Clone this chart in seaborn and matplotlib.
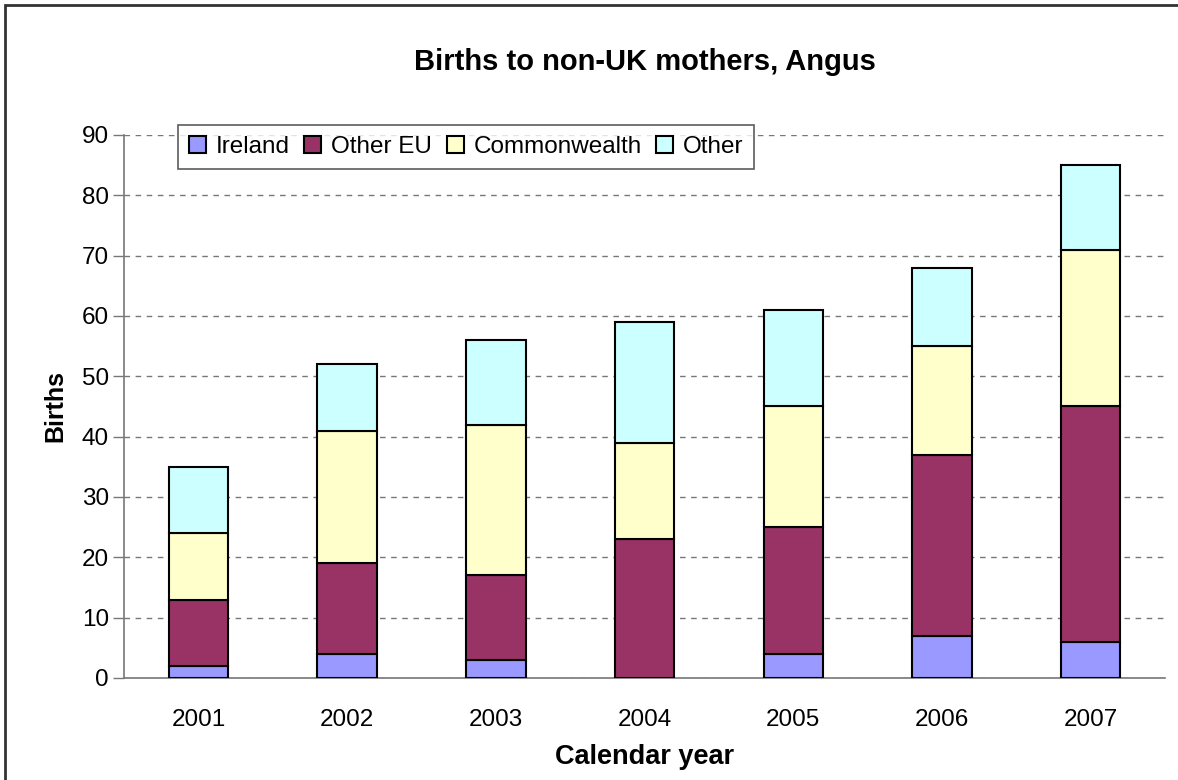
import matplotlib
matplotlib.use('Agg')
import matplotlib.pyplot as plt
import seaborn as sns
import numpy as np
import pandas as pd
from matplotlib.patches import Rectangle

years = ['2001', '2002', '2003', '2004', '2005', '2006', '2007']
ireland = [2, 4, 3, 0, 4, 7, 6]
other_eu = [11, 15, 14, 23, 21, 30, 39]
commonwealth = [11, 22, 25, 16, 20, 18, 26]
other = [11, 11, 14, 20, 16, 13, 14]

series_names = ['Ireland', 'Other EU', 'Commonwealth', 'Other']
series_colors = ['#9999FF', '#993366', '#FFFFCC', '#CCFFFF']

sns.set_style('white')
plt.rcParams['font.family'] = ['Liberation Sans', 'DejaVu Sans']
plt.rcParams['text.color'] = 'black'
plt.rcParams['axes.labelcolor'] = 'black'
plt.rcParams['xtick.color'] = 'black'
plt.rcParams['ytick.color'] = 'black'

fig = plt.figure(figsize=(11.78, 7.8), dpi=100)
ax = fig.add_axes([0.1053, 0.1308, 0.8837, 0.6962])

# figure border like the Excel chart area
fig.patches.append(Rectangle((5 / 1178, -0.1), 1.2, 1.0 - 5 / 780 + 0.1,
                             transform=fig.transFigure, fill=False,
                             edgecolor='#333333', linewidth=2.0, zorder=0))

bottom = np.zeros(len(years))
for name, vals, col in zip(series_names, [ireland, other_eu, commonwealth, other], series_colors):
    df = pd.DataFrame({'year': years, 'value': vals})
    sns.barplot(data=df, x='year', y='value', ax=ax, color=col, width=0.4,
                bottom=bottom, edgecolor='black', linewidth=1.5, label=name,
                saturation=1, zorder=3)
    bottom = bottom + np.array(vals)

ax.set_ylim(0, 90)
ax.set_xlim(-0.5, len(years) - 0.5)
ax.set_yticks(range(0, 91, 10))
ax.yaxis.grid(True, linestyle=(0, (4, 4)), color='#777777', linewidth=1.0, zorder=0)
ax.xaxis.grid(False)

# x ticks at category boundaries
ax.set_xticks(np.arange(len(years)))
ax.set_xticklabels(years)
ax.set_xticks(np.arange(-0.5, len(years)), minor=True)
ax.tick_params(axis='x', which='major', length=0, labelsize=17.5, pad=22)
ax.tick_params(axis='x', which='minor', length=8, width=1, color='#777777', direction='out')
ax.tick_params(axis='y', length=8, width=1, color='#777777', labelcolor='black',
               direction='out', labelsize=17.5, left=True, pad=3)
ax.tick_params(axis='x', which='both', labelcolor='black')

for s in ['top', 'right']:
    ax.spines[s].set_visible(False)
for s in ['left', 'bottom']:
    ax.spines[s].set_color('#777777')
    ax.spines[s].set_linewidth(1.2)

ax.set_xlabel('Calendar year', fontsize=19.5, fontweight='bold', labelpad=10)
ax.set_ylabel('Births', fontsize=18, fontweight='bold', labelpad=10)
ax.set_title('Births to non-UK mothers, Angus', fontsize=21, fontweight='bold', pad=47)

leg = ax.legend(loc='upper left', bbox_to_anchor=(0.052, 1.018), ncol=4,
                fontsize=17.5, frameon=True, fancybox=False, borderpad=0.45,
                handlelength=0.7, handleheight=0.7, handletextpad=0.4,
                columnspacing=0.6, borderaxespad=0)
leg.get_frame().set_edgecolor('#333333')
leg.get_frame().set_linewidth(1.2)
leg.set_zorder(5)

fig.savefig('out.png', dpi=100)
